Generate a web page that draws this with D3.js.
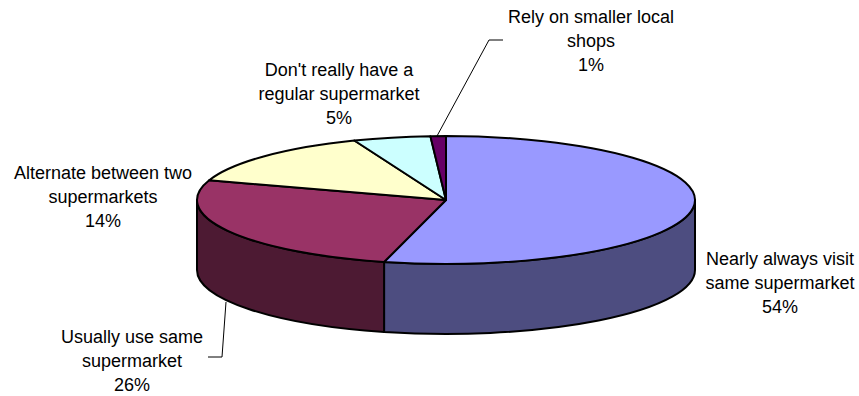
<!DOCTYPE html>
<html><head><meta charset="utf-8">
<script src="https://cdn.jsdelivr.net/npm/d3@7"></script>
<style>html,body{margin:0;padding:0;background:#fff;}svg{display:block;}</style>
</head><body>
<script>
const categories = ["Nearly always visit same supermarket","Usually use same supermarket","Alternate between two supermarkets","Don't really have a regular supermarket","Rely on smaller local shops"];
const values = [54, 26, 14, 5, 1];
const labelLines = [
  ["Nearly always visit","same supermarket","54%"],
  ["Usually use same","supermarket","26%"],
  ["Alternate between two","supermarkets","14%"],
  ["Don't really have a","regular supermarket","5%"],
  ["Rely on smaller local","shops","1%"]
];
const topColors = ["#9999FF","#993366","#FFFFCC","#CCFFFF","#660066"];
const sideColors = ["#4D4D80","#4D1A33","#80806A","#6A8080","#330033"];

const W = 859, H = 396;
const cx = 446, cy = 200, rx = 249, ry = 64, depth = 70;
const svg = d3.select("body").append("svg").attr("width", W).attr("height", H);

const pie = d3.pie().sort(null).startAngle(0).endAngle(2*Math.PI);
const arcs = pie(values);
const px = a => cx + rx*Math.sin(a);
const py = a => cy - ry*Math.cos(a);

// sides (front half: angles between PI/2 and 3PI/2)
const sideG = svg.append("g");
arcs.forEach((d,i) => {
  const s0 = Math.max(d.startAngle, Math.PI/2), s1 = Math.min(d.endAngle, 3*Math.PI/2);
  if (s1 <= s0) return;
  const p = `M${px(s0)},${py(s0)} A${rx},${ry} 0 0 1 ${px(s1)},${py(s1)} L${px(s1)},${py(s1)+depth} A${rx},${ry} 0 0 0 ${px(s0)},${py(s0)+depth} Z`;
  sideG.append("path").attr("d", p).attr("fill", sideColors[i]).attr("stroke","#000").attr("stroke-width",2).attr("stroke-linejoin","round");
});
// tops
const topG = svg.append("g");
arcs.forEach((d,i) => {
  const a0 = d.startAngle, a1 = d.endAngle;
  const large = (a1 - a0) > Math.PI ? 1 : 0;
  const p = `M${cx},${cy} L${px(a0)},${py(a0)} A${rx},${ry} 0 ${large} 1 ${px(a1)},${py(a1)} Z`;
  topG.append("path").attr("d", p).attr("fill", topColors[i]).attr("stroke","#000").attr("stroke-width",2).attr("stroke-linejoin","round");
});

// leader lines
const leaders = [
  null,
  [[226,302],[222,357],[208,357]],
  null,
  null,
  [[437,136],[489,40],[503,40]]
];
leaders.forEach(l => {
  if (!l) return;
  svg.append("path").attr("d", d3.line()(l)).attr("fill","none").attr("stroke","#000").attr("stroke-width",1);
});

// labels
const labelPos = [[780,265],[132,343],[103,179],[339,76],[591,23]];
const lineH = 24;
labelLines.forEach((lines,i) => {
  const t = svg.append("text").attr("text-anchor","middle")
    .attr("font-family","'Liberation Sans', Arial, sans-serif").attr("font-size",18).attr("fill","#000");
  lines.forEach((s,j) => {
    t.append("tspan").attr("x", labelPos[i][0]).attr("y", labelPos[i][1] + j*lineH).text(s);
  });
});
</script>
</body></html>
